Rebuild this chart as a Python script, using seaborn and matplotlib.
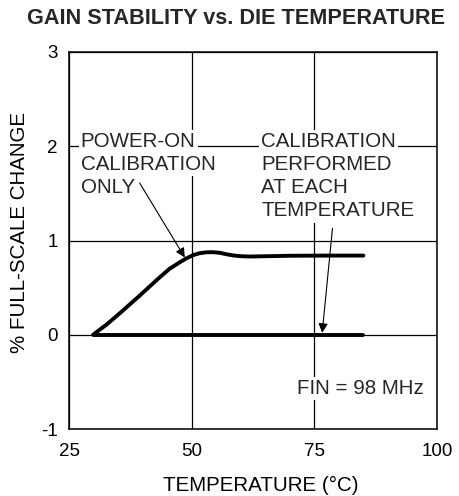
import matplotlib
matplotlib.use("Agg")
import matplotlib.pyplot as plt
import seaborn as sns
import pandas as pd

# Die temperature (°C) and full-scale gain change (%)
temp_power_on = [29.9, 32.7, 35.4, 38.1, 39.4, 41.5, 43.5, 45.5, 47.6, 48.9, 50.3,
                 51.6, 53.0, 54.3, 55.7, 57.0, 58.4, 59.8, 61.8, 63.8, 70, 78, 85]
gain_power_on = [0, 0.11, 0.23, 0.355, 0.415, 0.515, 0.61, 0.70, 0.77, 0.81, 0.845,
                 0.865, 0.875, 0.876, 0.87, 0.855, 0.842, 0.834, 0.83, 0.832, 0.838, 0.84, 0.84]
temp_each = [30, 85]
gain_each = [0, 0]

x_ticks = [25, 50, 75, 100]
y_ticks = [-1, 0, 1, 2, 3]

title = "GAIN STABILITY vs. DIE TEMPERATURE"
x_label = "TEMPERATURE (°C)"
y_label = "% FULL-SCALE CHANGE"
left_note = ["POWER-ON", "CALIBRATION", "ONLY"]
right_note = ["CALIBRATION", "PERFORMED", "AT EACH", "TEMPERATURE"]
fin_note = "FIN = 98 MHz"

sns.set_style("white")
plt.rcParams["font.family"] = ["Liberation Sans", "DejaVu Sans"]

fig = plt.figure(figsize=(4.59, 4.96), dpi=100)
ax = fig.add_axes([69 / 459, 67 / 496, 368 / 459, 377 / 496])

df_on = pd.DataFrame({"temp": temp_power_on, "gain": gain_power_on})
df_each = pd.DataFrame({"temp": temp_each, "gain": gain_each})
line_kw = dict(color="black", lw=2.8, sort=False, zorder=4,
               solid_capstyle="round", solid_joinstyle="round")
sns.lineplot(data=df_on, x="temp", y="gain", ax=ax, **line_kw)
sns.lineplot(data=df_each, x="temp", y="gain", ax=ax, **line_kw)

ax.set_xlim(25, 100)
ax.set_ylim(-1, 3)
ax.set_xticks(x_ticks)
ax.set_yticks(y_ticks)
ax.set_xticklabels([str(v) for v in x_ticks])
ax.set_yticklabels([str(v) for v in y_ticks])
ax.tick_params(length=0, labelsize=13.5, colors="black")
ax.tick_params(axis="x", pad=10)
ax.tick_params(axis="y", pad=8)

ax.set_axisbelow(True)
ax.grid(True, color="black", lw=0.9)
for s in ax.spines.values():
    s.set_color("black")
    s.set_linewidth(1.1)

ax.set_xlabel(x_label, fontsize=14.8, color="black")
ax.set_ylabel(y_label, fontsize=14.8, color="black")
ax.xaxis.set_label_coords(0.522, -0.125)
ax.yaxis.set_label_coords(-0.108, 0.522)
fig.suptitle(title, fontsize=15.6, fontweight="bold", x=0.515, y=0.984, va="top")

box = dict(boxstyle="square,pad=0.1", fc="white", ec="none")
for i, txt in enumerate(left_note):
    ax.text(27.4, 1.99 - 0.245 * i, txt, fontsize=14.8, va="baseline", ha="left",
            bbox=box, zorder=3)
for i, txt in enumerate(right_note):
    ax.text(64.2, 1.99 - 0.245 * i, txt, fontsize=14.8, va="baseline", ha="left",
            bbox=box, zorder=3)
ax.text(71.5, -0.625, fin_note, fontsize=14.8, va="baseline", ha="left",
        bbox=box, zorder=3)

arrow = dict(arrowstyle="-|>", color="black", lw=0.8, mutation_scale=14,
             shrinkA=0, shrinkB=0)
ax.annotate("", xy=(48.6, 0.82), xytext=(39.4, 1.61), arrowprops=arrow, zorder=5)
ax.annotate("", xy=(76.6, 0.02), xytext=(78.7, 1.13), arrowprops=arrow, zorder=5)

fig.savefig("out.png", dpi=100)
